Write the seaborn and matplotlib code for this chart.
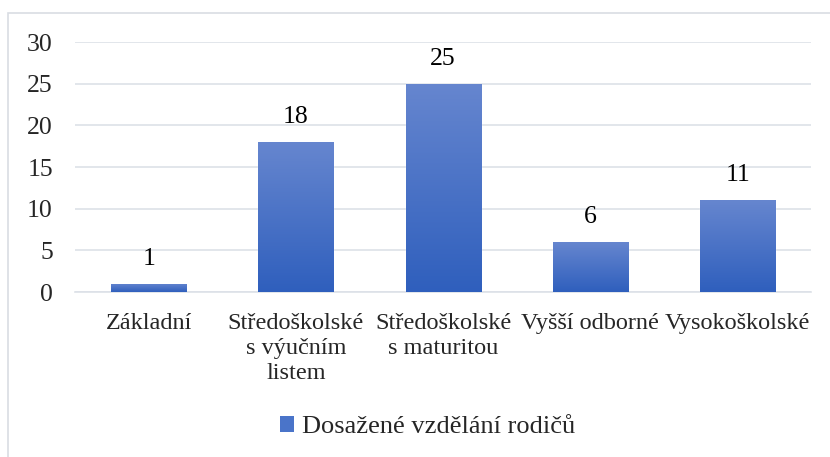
import numpy as np
import pandas as pd
import matplotlib
matplotlib.use('Agg')
import matplotlib.pyplot as plt
import seaborn as sns
from matplotlib.patches import Rectangle

# Data
categories = ['Základní', 'Středoškolské\ns výučním\nlistem', 'Středoškolské\ns maturitou',
              'Vyšší odborné', 'Vysokoškolské']
values = [1, 18, 25, 6, 11]
series_name = 'Dosažené vzdělání rodičů'
yticks = [0, 5, 10, 15, 20, 25, 30]

sns.set_style('white')
plt.rcParams['font.family'] = ['Liberation Serif', 'DejaVu Serif']

df = pd.DataFrame({'kat': categories, 'pocet': values})

fig = plt.figure(figsize=(8.3, 4.57), dpi=100)
ax = fig.add_axes([0.0904, 0.361, 0.887, 0.547])

sns.barplot(data=df, x='kat', y='pocet', color='#4472C4', width=0.51,
            saturation=1, ax=ax, zorder=2)

# gradient fill for each bar (lighter top, darker bottom)
grad = np.linspace(0, 1, 256).reshape(-1, 1)
cmap = matplotlib.colors.LinearSegmentedColormap.from_list('g', ['#2F5FBD', '#6686CF'])
for p in ax.patches:
    x0, y0 = p.get_x(), p.get_y()
    w, h = p.get_width(), p.get_height()
    im = ax.imshow(grad, extent=[x0, x0 + w, y0, y0 + h], origin='lower',
                   cmap=cmap, aspect='auto', zorder=3)
    im.set_clip_path(p)
    ax.text(x0 + w / 2, y0 + h + 1.7, f'{int(h)}', ha='center', va='bottom',
            fontsize=18.5, color='#000000')

ax.set_xlim(-0.5, len(categories) - 0.5)
ax.set_ylim(0, 30)
ax.set_yticks(yticks)
ax.set_yticklabels([str(t) for t in yticks], fontsize=18.5)
ax.tick_params(axis='x', labelsize=17.5, length=0, pad=15)
ax.tick_params(axis='y', length=0, pad=16)
for lbl in ax.get_xticklabels():
    lbl.set_linespacing(1.25)
ax.set_xlabel('')
ax.set_ylabel('')
ax.grid(axis='y', color='#DDE1E8', linewidth=1.2, zorder=0)
ax.set_axisbelow(True)
for s in ['top', 'right', 'left']:
    ax.spines[s].set_visible(False)
ax.spines['bottom'].set_color('#DDE1E8')
ax.spines['bottom'].set_linewidth(1.2)

# legend
handle = Rectangle((0, 0), 1, 1, facecolor='#4A74C9', edgecolor='none')
fig.legend([handle], [series_name], loc='center', bbox_to_anchor=(0.515, 0.066),
           frameon=False, fontsize=19, handlelength=0.55, handleheight=0.55,
           handletextpad=0.3)

# chart frame
fig.patches.append(Rectangle((8 / 830, -0.1), 1.2, 1 - 13 / 457 + 0.1,
                             transform=fig.transFigure, fill=False,
                             edgecolor='#D9DDE3', linewidth=1.2, zorder=0))

fig.savefig('out.png', dpi=100)
